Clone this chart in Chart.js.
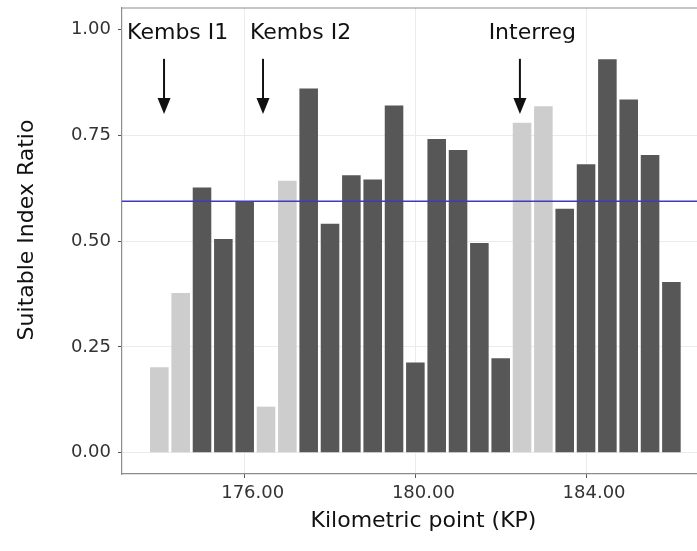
<!DOCTYPE html>
<html>
<head>
<meta charset="utf-8">
<script src="https://cdn.jsdelivr.net/npm/chart.js@4/dist/chart.umd.min.js"></script>
<style>
  html, body { margin: 0; padding: 0; background: #fff; }
  #wrap { width: 697px; height: 551px; }
</style>
</head>
<body>
<div id="wrap"><canvas id="kpChart" width="697" height="551"></canvas></div>
<script>
// Kilometric points of the sections
const kpValues = [174.0, 174.5, 175.0, 175.5, 176.0, 176.5, 177.0, 177.5, 178.0, 178.5, 179.0, 179.5,
                  180.0, 180.5, 181.0, 181.5, 182.0, 182.5, 183.0, 183.5, 184.0, 184.5, 185.0, 185.5, 186.0];
// Suitable index ratio per section
const ratioValues = [0.202, 0.377, 0.626, 0.505, 0.594, 0.109, 0.642, 0.860, 0.541, 0.655, 0.645, 0.820,
                     0.213, 0.741, 0.715, 0.495, 0.223, 0.779, 0.818, 0.576, 0.681, 0.929, 0.834, 0.703, 0.403];
// restored sections are drawn light
const sectionGroup = ['restored', 'restored', 'other', 'other', 'other', 'restored', 'restored', 'other',
                      'other', 'other', 'other', 'other', 'other', 'other', 'other', 'other', 'other',
                      'restored', 'restored', 'other', 'other', 'other', 'other', 'other', 'other'];
const meanRatio = 0.594;

const xTicks = [176, 180, 184];
const yTicks = [0, 0.25, 0.5, 0.75, 1];

// site annotations
const siteLabels = ['Kembs I1', 'Kembs I2', 'Interreg'];
const siteLabelKp = [174.43, 177.31, 182.74];
const siteArrowKp = [174.11, 176.43, 182.45];
const siteLabelY = 1.0;
const arrowFrom = 0.93;
const arrowTo = 0.80;

const xTitle = 'Kilometric point (KP)';
const yTitle = 'Suitable Index Ratio';

const groupColors = { restored: '#cdcdcd', other: '#575757' };
const FONT = '"DejaVu Sans", Arial, Helvetica, sans-serif';

// horizontal mean line, panel top border, site arrows and axis titles
const overlayPlugin = {
    id: 'overlay',
    afterDatasetsDraw: (chart) => {
        const { ctx, chartArea, scales } = chart;
        const x = scales.x, y = scales.y;
        ctx.save();

        // mean line
        const my = y.getPixelForValue(meanRatio);
        ctx.strokeStyle = '#3535f2';
        ctx.lineWidth = 1.6;
        ctx.beginPath();
        ctx.moveTo(chartArea.left, my);
        ctx.lineTo(chartArea.right, my);
        ctx.stroke();

        // top border of the panel
        ctx.strokeStyle = '#8c8c8c';
        ctx.lineWidth = 1.2;
        ctx.beginPath();
        ctx.moveTo(chartArea.left, chartArea.top);
        ctx.lineTo(chartArea.right, chartArea.top);
        ctx.stroke();

        // labels
        ctx.fillStyle = '#111';
        ctx.font = '22px ' + FONT;
        ctx.textAlign = 'center';
        ctx.textBaseline = 'alphabetic';
        siteLabels.forEach((txt, i) => {
            ctx.fillText(txt, x.getPixelForValue(siteLabelKp[i]), y.getPixelForValue(siteLabelY) + 10);
        });

        // arrows
        siteArrowKp.forEach((k) => {
            const ax = x.getPixelForValue(k);
            const y0 = y.getPixelForValue(arrowFrom);
            const y1 = y.getPixelForValue(arrowTo);
            const headH = 16, headW = 13;
            ctx.strokeStyle = '#111';
            ctx.lineWidth = 2;
            ctx.beginPath();
            ctx.moveTo(ax, y0);
            ctx.lineTo(ax, y1 - headH + 2);
            ctx.stroke();
            ctx.fillStyle = '#111';
            ctx.beginPath();
            ctx.moveTo(ax - headW / 2, y1 - headH);
            ctx.lineTo(ax + headW / 2, y1 - headH);
            ctx.lineTo(ax, y1);
            ctx.closePath();
            ctx.fill();
        });

        // axis titles
        ctx.fillStyle = '#111';
        ctx.font = '22px ' + FONT;
        ctx.textAlign = 'center';
        ctx.textBaseline = 'alphabetic';
        ctx.fillText(xTitle, (chartArea.left + chartArea.right) / 2 + 14, chartArea.bottom + 53);
        ctx.translate(33, (chartArea.top + chartArea.bottom) / 2 - 11);
        ctx.rotate(-Math.PI / 2);
        ctx.fillText(yTitle, 0, 0);
        ctx.restore();
    }
};

const ctx = document.getElementById('kpChart').getContext('2d');
const kpChart = new Chart(ctx, {
    type: 'bar',
    data: {
        datasets: [{
            label: 'Suitable Index Ratio',
            data: kpValues.map((k, i) => ({ x: k, y: ratioValues[i] })),
            backgroundColor: sectionGroup.map(g => groupColors[g]),
            borderWidth: 0,
            barPercentage: 0.87,
            categoryPercentage: 1.0
        }]
    },
    options: {
        responsive: false,
        animation: false,
        layout: { padding: { top: 8, right: 0, left: 0, bottom: 0 } },
        plugins: { legend: { display: false }, tooltip: { enabled: false } },
        scales: {
            x: {
                type: 'linear',
                offset: false,
                min: 173.125,
                max: 186.6,
                afterBuildTicks: (scale) => { scale.ticks = xTicks.map(v => ({ value: v })); },
                afterFit: (scale) => { scale.height = 77; scale.paddingLeft = 0; scale.paddingRight = 0; },
                grid: { offset: false, color: '#ebebeb', lineWidth: 1, tickColor: '#555', tickLength: 4 },
                border: { color: '#8c8c8c', width: 1.2 },
                ticks: {
                    color: '#333',
                    font: { family: FONT, size: 18 },
                    padding: 5,
                    labelOffset: 8,
                    maxRotation: 0,
                    callback: (v) => Number(v).toFixed(2)
                }
            },
            y: {
                min: -0.05,
                max: 1.05,
                afterBuildTicks: (scale) => { scale.ticks = yTicks.map(v => ({ value: v })); },
                afterFit: (scale) => { scale.width = 122; scale.paddingTop = 0; scale.paddingBottom = 0; },
                grid: {
                    color: (c) => (c.tick && c.tick.value === 1 ? 'rgba(0,0,0,0)' : '#ebebeb'),
                    lineWidth: 1,
                    tickColor: '#555',
                    tickLength: 4
                },
                border: { color: '#8c8c8c', width: 1.2 },
                ticks: {
                    color: '#333',
                    font: { family: FONT, size: 18 },
                    padding: 7,
                    callback: (v) => Number(v).toFixed(2)
                }
            }
        }
    },
    plugins: [overlayPlugin]
});
</script>
</body>
</html>
